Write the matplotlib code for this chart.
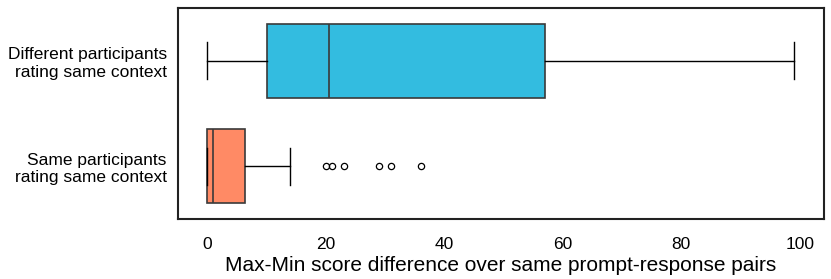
import matplotlib
matplotlib.use("Agg")
import matplotlib.pyplot as plt

plt.rcParams['font.family'] = ['Liberation Sans', 'DejaVu Sans']

categories = ["Different participants\nrating same context", "Same participants\nrating same context"]
mins = [0, 0]
q1s = [10, 0]
medians = [20.5, 1]
q3s = [57, 6.3]
maxs = [99, 14]
outliers = [[], [20, 21, 23, 29, 31, 36]]
colors = ["#33BCE0", "#FF8A65"]

stats = []
for i, c in enumerate(categories):
    stats.append(dict(label=c, whislo=mins[i], q1=q1s[i], med=medians[i],
                      q3=q3s[i], whishi=maxs[i], fliers=outliers[i]))

fig = plt.figure(figsize=(8.31, 2.79), dpi=100)
ax = fig.add_axes([0.214, 0.215, 0.777, 0.756])

positions = list(range(len(categories)))
bp = ax.bxp(stats, positions=positions, vert=False, widths=0.7, patch_artist=True,
            boxprops=dict(edgecolor="#3a3a3a", linewidth=1.2),
            medianprops=dict(color="#3a3a3a", linewidth=1.2),
            whiskerprops=dict(color="black", linewidth=1.0),
            capprops=dict(color="black", linewidth=1.0),
            flierprops=dict(marker="o", markersize=4.5, markerfacecolor="none",
                            markeredgecolor="black", markeredgewidth=0.9))
for patch, col in zip(bp["boxes"], colors):
    patch.set_facecolor(col)

ax.set_ylim(1.5, -0.5)
ax.set_xlim(-5, 104)
ax.set_yticks(positions)
ax.set_yticklabels(categories, fontsize=12.5, ha="right")
ax.set_xticks([0, 20, 40, 60, 80, 100])
ax.tick_params(axis="y", length=0, labelsize=12.5, pad=8)
ax.tick_params(axis="x", length=0, labelsize=12.5, pad=13)
ax.set_xlabel("Max-Min score difference over same prompt-response pairs", fontsize=15, labelpad=3)
for s in ax.spines.values():
    s.set_linewidth(1.5)
    s.set_color("#222222")

fig.savefig("out.png", dpi=100)
